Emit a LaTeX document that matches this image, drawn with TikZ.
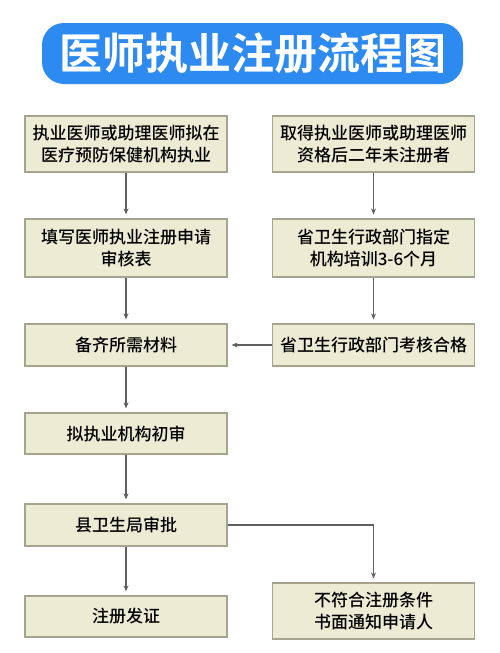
\documentclass[tikz,border=0pt]{standalone}
\usepackage{fontspec}
\newfontfamily\cjk{Noto Sans CJK SC Medium}
\newfontfamily\cjkbold{Noto Sans CJK SC Bold}
\usetikzlibrary{arrows.meta}
\definecolor{titleblue}{RGB}{44,138,240}
\definecolor{boxfill}{RGB}{236,235,212}
\definecolor{boxline}{RGB}{166,164,143}
\definecolor{arrowgray}{RGB}{95,95,95}

\begin{document}
\begin{tikzpicture}[x=1pt, y=1pt,
		stepbox/.style={draw=boxline, line width=1.2pt, fill=boxfill, minimum width=202pt,
			align=center, inner sep=0pt, font=\cjk\fontsize{17}{22}\selectfont},
		flow/.style={draw=arrowgray, line width=1.3pt, -{Stealth[length=6pt,width=5pt]}, shorten >=4pt}]
		\useasboundingbox (0,0) rectangle (500,-653);
		% Title
		\node[fill=titleblue, rounded corners=22pt, minimum width=421pt, minimum height=61pt,
			text=white, font=\cjkbold\fontsize{43}{50}\selectfont] (title) at (252.5,-53.5) {医师执业注册流程图};
		
		% Left column
		\node[stepbox, minimum height=56pt] (apply) at (126,-144) {执业医师或助理医师拟在\\医疗预防保健机构执业};
		\node[stepbox, minimum height=58pt] (form) at (126,-248) {填写医师执业注册申请\\审核表};
		\node[stepbox, minimum height=42pt] (docs) at (126,-345) {备齐所需材料};
		\node[stepbox, minimum height=41pt] (check) at (126,-433.5) {拟执业机构初审};
		\node[stepbox, minimum height=42pt] (county) at (126,-525) {县卫生局审批};
		\node[stepbox, minimum height=41pt] (issue) at (126,-616.5) {注册发证};
		
		% Right column
		\node[stepbox, minimum height=56pt] (late) at (373.5,-144) {取得执业医师或助理医师\\资格后二年未注册者};
		\node[stepbox, minimum height=58pt] (train) at (373.5,-248) {省卫生行政部门指定\\机构培训3-6个月};
		\node[stepbox, minimum height=42pt] (exam) at (373.5,-345) {省卫生行政部门考核合格};
		\node[stepbox, minimum height=56pt] (reject) at (373.5,-611) {不符合注册条件\\书面通知申请人};
		
		% Connectors
		\draw[flow] (apply) -- (form);
		\draw[flow] (form) -- (docs);
		\draw[flow] (docs) -- (check);
		\draw[flow] (check) -- (county);
		\draw[flow] (county) -- (issue);
		\draw[flow] (late) -- (train);
		\draw[flow] (train) -- (exam);
		\draw[flow] (exam) -- (docs);
		\draw[flow] (county.east) -| (reject.north);
	\end{tikzpicture}
\end{document}
